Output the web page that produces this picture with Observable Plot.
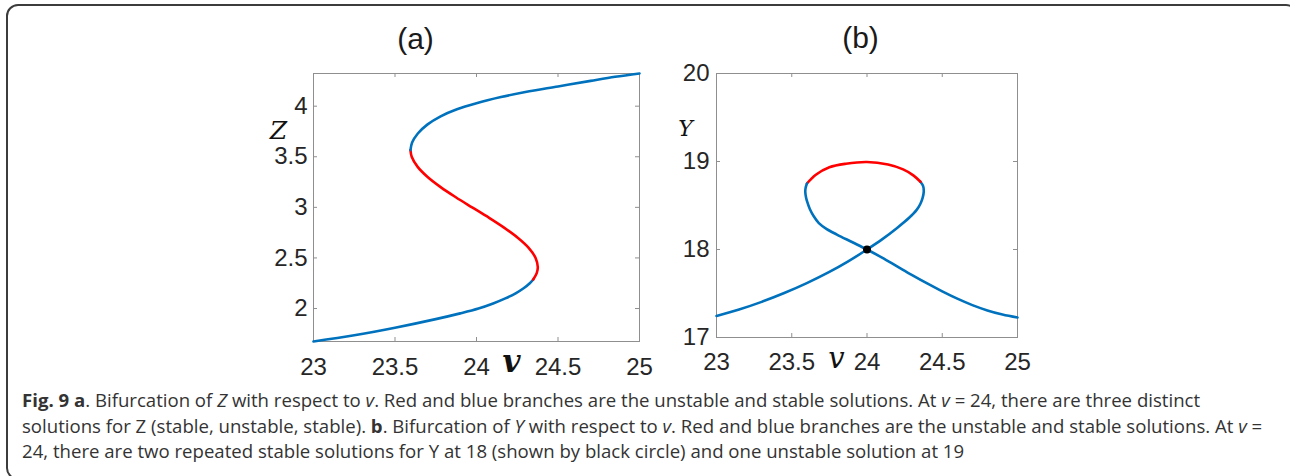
<!DOCTYPE html>
<html><head><meta charset="utf-8">
<script src="https://cdn.jsdelivr.net/npm/d3@7"></script>
<script src="https://cdn.jsdelivr.net/npm/@observablehq/plot@0.6"></script>
<style>
html,body{margin:0;padding:0;background:#fff;width:1290px;height:476px;overflow:hidden;}
#wrap{position:relative;width:1290px;height:476px;}
#border{position:absolute;left:6px;top:4px;width:1292px;height:476px;border:2px solid #3c3c3c;border-radius:12px;box-sizing:border-box;}
#pa{position:absolute;left:0;top:0;}
#pb{position:absolute;left:650px;top:0;}
#cap{position:absolute;left:22px;top:387px;font-family:"Open Sans";font-size:18.6px;line-height:25.5px;color:#333;white-space:nowrap;}
#cap b{font-weight:700;}
</style></head><body>
<div id="wrap">
<div id="border"></div>
<div id="pa"></div>
<div id="pb"></div>
<div id="cap"><b>Fig. 9 a</b>. Bifurcation of <i>Z</i> with respect to <i>v</i>. Red and blue branches are the unstable and stable solutions. At <i>v</i> = 24, there are three distinct<br>solutions for Z (stable, unstable, stable). <b>b</b>. Bifurcation of <i>Y</i> with respect to <i>v</i>. Red and blue branches are the unstable and stable solutions. At <i>v</i> =<br>24, there are two repeated stable solutions for Y at 18 (shown by black circle) and one unstable solution at 19</div>
</div>
<script>
// ---- Panel (a): Z vs v ----
const aLowerV = [23.0, 23.25, 23.5, 23.75, 23.9, 24.012, 24.102, 24.177, 24.24, 24.289, 24.327, 24.348];
const aLowerZ = [1.674, 1.735, 1.81, 1.895, 1.952, 2.0, 2.05, 2.1, 2.15, 2.2, 2.25, 2.287];
const aRedV   = [24.348, 24.3695, 24.376, 24.3625, 24.32, 24.253, 24.169, 24.074, 23.973, 23.873, 23.78, 23.70, 23.639, 23.6025, 23.595];
const aRedZ   = [2.287, 2.35, 2.41, 2.5, 2.6, 2.7, 2.8, 2.9, 3.0, 3.1, 3.2, 3.3, 3.4, 3.5, 3.566];
const aUpperV = [23.595, 23.605, 23.64, 23.70, 23.78, 23.88, 24.0, 24.15, 24.3, 24.5, 24.7, 24.85, 25.0];
const aUpperZ = [3.566, 3.64, 3.73, 3.82, 3.90, 3.97, 4.03, 4.09, 4.14, 4.195, 4.25, 4.29, 4.323];
const aXTicks = [23, 23.5, 24, 24.5, 25];
const aYTicks = [2, 2.5, 3, 3.5, 4];
const aXDomain = [23, 25];
const aYDomain = [1.674, 4.323];

// ---- Panel (b): Y vs v ----
const bBlue1V = [23.0, 23.15, 23.3, 23.45, 23.6, 23.75, 23.875, 24.0, 24.1, 24.2, 24.28, 24.33, 24.355, 24.37, 24.377, 24.373, 24.355];
const bBlue1Y = [17.245, 17.318, 17.405, 17.505, 17.618, 17.745, 17.865, 18.0, 18.115, 18.245, 18.36, 18.45, 18.52, 18.59, 18.655, 18.72, 18.77];
const bRedV   = [24.355, 24.31, 24.24, 24.14, 24.0, 23.86, 23.75, 23.66, 23.601];
const bRedY   = [18.77, 18.84, 18.91, 18.965, 18.995, 18.975, 18.935, 18.85, 18.75];
const bBlue2V = [23.601, 23.592, 23.590, 23.594, 23.603, 23.62, 23.645, 23.68, 23.73, 23.80, 23.90, 24.0, 24.1, 24.2, 24.3, 24.4, 24.5, 24.6, 24.7, 24.8, 24.9, 25.0];
const bBlue2Y = [18.75, 18.70, 18.655, 18.60, 18.54, 18.46, 18.38, 18.30, 18.235, 18.17, 18.085, 18.0, 17.907, 17.808, 17.709, 17.614, 17.524, 17.441, 17.368, 17.308, 17.261, 17.227];
const bDotV = [24];
const bDotY = [18];
const bXTicks = [23, 23.5, 24, 24.5, 25];
const bYTicks = [17, 18, 19, 20];
const bXDomain = [23, 25];
const bYDomain = [17, 20];

const BLUE = "#0072BD", RED = "#FF0000", GRAY = "#8f8f8f", TXT = "#262626";
const rows = (vs, ys) => vs.map((v, i) => ({v, y: ys[i]}));

function label(txt, o) {
  return Plot.text([txt], {text: d => d, textAnchor: "middle", lineAnchor: "middle", ...o});
}

function panel({W, H, m, xDomain, yDomain, xTicks, yTicks, series, dots, title, titleDx, titleDy, yLab, yLabDx, yLabDy, yLabSize, xLabDx, xLabDy, xLabSize, xLabWeight, xPad, yPad}) {
  const pw = W - m.left - m.right, ph = H - m.top - m.bottom;
  const marks = [
    Plot.frame({stroke: GRAY, strokeWidth: 1}),
    Plot.tickX(xTicks, {x: d => d, insetTop: ph - 4, stroke: GRAY}),
    Plot.tickX(xTicks, {x: d => d, insetBottom: ph - 4, stroke: GRAY}),
    Plot.tickY(yTicks, {y: d => d, insetRight: pw - 4, stroke: GRAY}),
    Plot.tickY(yTicks, {y: d => d, insetLeft: pw - 4, stroke: GRAY}),
    Plot.axisX(xTicks, {anchor: "bottom", tickSize: 0, tickPadding: xPad, fontSize: 24, fill: TXT, tickFormat: d => String(d), label: null}),
    Plot.axisY(yTicks, {anchor: "left", tickSize: 0, tickPadding: yPad, fontSize: 24, fill: TXT, tickFormat: d => String(d), label: null}),
  ];
  for (const s of series) {
    marks.push(Plot.line(s.data, {x: "v", y: "y", stroke: s.color, strokeWidth: 2.6, curve: "catmull-rom"}));
  }
  if (dots) marks.push(Plot.dot(dots, {x: "v", y: "y", r: 4, fill: "#000"}));
  marks.push(label(title, {frameAnchor: "top-left", dx: titleDx, dy: titleDy, fontSize: 30, fill: "#1a1a1a"}));
  marks.push(label(yLab, {frameAnchor: "top-left", dx: yLabDx, dy: yLabDy, fontSize: yLabSize, fontFamily: "DejaVu Serif", fontStyle: "italic", fill: "#111"}));
  marks.push(label("v", {frameAnchor: "bottom-left", dx: xLabDx, dy: xLabDy, fontSize: xLabSize, fontFamily: "DejaVu Serif", fontStyle: "italic", fontWeight: xLabWeight, fill: "#111"}));
  return Plot.plot({
    width: W, height: H,
    marginTop: m.top, marginRight: m.right, marginBottom: m.bottom, marginLeft: m.left,
    x: {domain: xDomain},
    y: {domain: yDomain},
    style: {background: "transparent", fontFamily: "Liberation Sans", color: TXT, overflow: "visible"},
    marks
  });
}

document.getElementById("pa").append(panel({
  W: 650, H: 385, m: {top: 73, right: 11, bottom: 44, left: 313},
  xDomain: aXDomain, yDomain: aYDomain, xTicks: aXTicks, yTicks: aYTicks,
  series: [
    {data: rows(aLowerV, aLowerZ), color: BLUE},
    {data: rows(aRedV, aRedZ), color: RED},
    {data: rows(aUpperV, aUpperZ), color: BLUE}
  ],
  title: "(a)", titleDx: 102, titleDy: -34,
  yLab: "Z", yLabDx: -35, yLabDy: 57, yLabSize: 25,
  xLabDx: 198, xLabDy: 21, xLabSize: 31, xLabWeight: "bold", xPad: 16, yPad: 6
}));

document.getElementById("pb").append(panel({
  W: 390, H: 385, m: {top: 73, right: 23, bottom: 48, left: 66},
  xDomain: bXDomain, yDomain: bYDomain, xTicks: bXTicks, yTicks: bYTicks,
  series: [
    {data: rows(bBlue1V, bBlue1Y), color: BLUE},
    {data: rows(bRedV, bRedY), color: RED},
    {data: rows(bBlue2V, bBlue2Y), color: BLUE}
  ],
  dots: rows(bDotV, bDotY),
  title: "(b)", titleDx: 144, titleDy: -35,
  yLab: "Y", yLabDx: -31, yLabDy: 55, yLabSize: 22,
  xLabDx: 120, xLabDy: 21, xLabSize: 29, xLabWeight: "normal", xPad: 15, yPad: 7
}));
</script>
</body></html>
